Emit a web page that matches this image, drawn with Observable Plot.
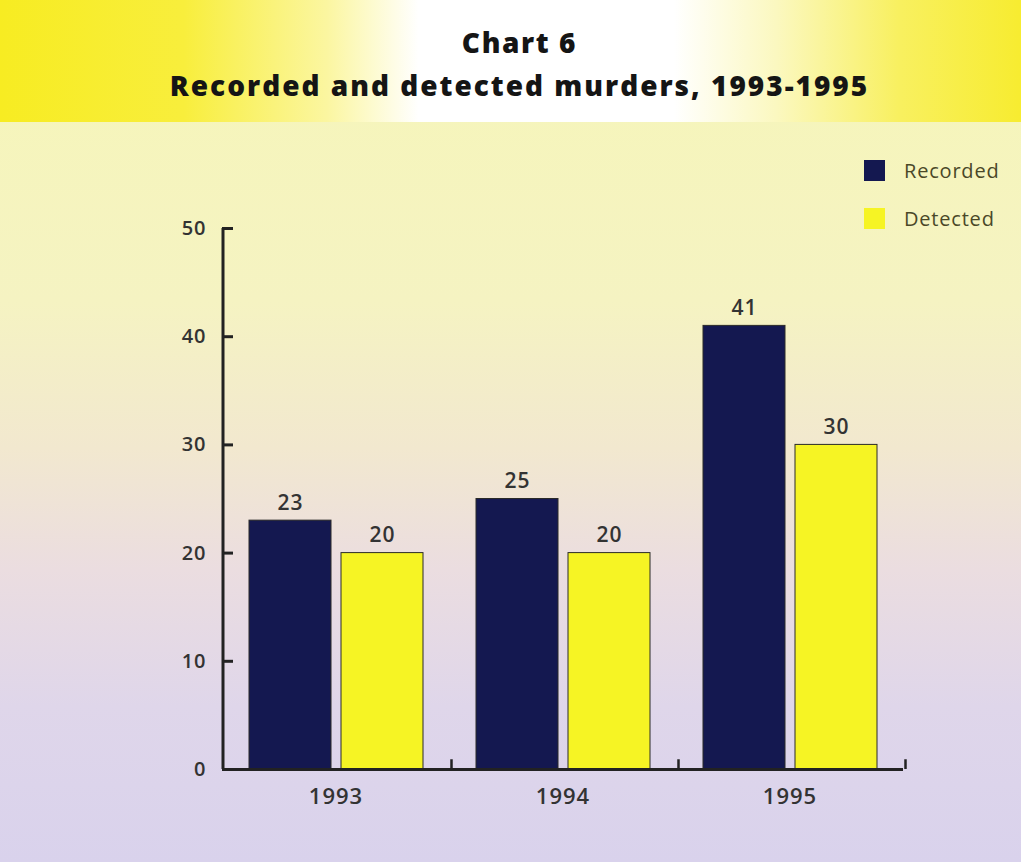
<!DOCTYPE html>
<html>
<head>
<meta charset="utf-8">
<script src="https://cdn.jsdelivr.net/npm/d3@7"></script>
<script src="https://cdn.jsdelivr.net/npm/@observablehq/plot@0.6"></script>
<style>
  html, body { margin: 0; padding: 0; background: #fff; }
  #page {
    position: relative; width: 1021px; height: 862px; overflow: hidden;
    background: linear-gradient(to bottom, #f6f6b8 0%, #f5f3c2 35%, #f2e8cf 52%, #ebdde0 66%, #dfd6ea 82%, #d9d2ec 100%);
    font-family: "Open Sans", sans-serif;
  }
  #banner {
    height: 122px; position: relative;
    background: linear-gradient(to right, #f7ec22 0%, #f8ee3c 18%, #fbf6a0 32%, #ffffff 41%, #ffffff 66%, #fbf8c0 76%, #f8f060 88%, #f7ec30 100%);
  }
  #banner .l1 { position: absolute; left: 18px; right: 0; top: 27px; line-height: 30px; text-align: center; font-weight: 800; font-size: 28px; color: #151515; letter-spacing: 1.6px; }
  #banner .l2 { position: absolute; left: 18px; right: 0; top: 70px; line-height: 30px; text-align: center; font-weight: 800; font-size: 28px; color: #151515; letter-spacing: 2px; }
  #legend { position: absolute; left: 864px; top: 158px; font-size: 20px; color: #4a4828; letter-spacing: 0.8px; }
  #legend .item { display: flex; align-items: center; height: 24px; margin-bottom: 24px; }
  #legend .sw { width: 21px; height: 21px; margin-right: 19px; box-sizing: border-box; }
  #chart { position: absolute; left: 0; top: 122px; }
</style>
</head>
<body>
<div id="page">
  <div id="banner">
    <div class="l1" id="t1"></div>
    <div class="l2" id="t2"></div>
  </div>
  <div id="legend"></div>
  <div id="chart"></div>
</div>
<script>
const titleLine1 = "Chart 6";
const titleLine2 = "Recorded and detected murders, 1993-1995";
const years = ["1993", "1994", "1995"];
const series = ["Recorded", "Detected"];
const recorded = [23, 25, 41];
const detected = [20, 20, 30];
const yTicks = [0, 10, 20, 30, 40, 50];
const seriesColors = ["#141850", "#f6f424"];

document.getElementById("t1").textContent = titleLine1;
document.getElementById("t2").textContent = titleLine2;

const legend = document.getElementById("legend");
series.forEach((s, i) => {
  const item = document.createElement("div");
  item.className = "item";
  const sw = document.createElement("div");
  sw.className = "sw";
  sw.style.background = seriesColors[i];
  const lab = document.createElement("span");
  lab.textContent = s;
  item.appendChild(sw); item.appendChild(lab);
  legend.appendChild(item);
});

const data = years.flatMap((y, i) => [
  {year: y, series: series[0], value: recorded[i]},
  {year: y, series: series[1], value: detected[i]}
]);

const chart = Plot.plot({
  width: 1021,
  height: 740,
  marginTop: 106,
  marginBottom: 93,
  marginLeft: 222,
  marginRight: 118,
  style: {background: "transparent", fontFamily: "Open Sans, sans-serif", fontSize: "20px", fontWeight: 600, color: "#333", letterSpacing: "1px"},
  fx: {domain: years, padding: 0, label: null},
  x: {domain: series, paddingInner: 0.109, paddingOuter: 0.288, axis: null},
  y: {domain: [0, 50], label: null},
  color: {domain: series, range: seriesColors},
  marks: [
    Plot.barY(data, {fx: "year", x: "series", y: "value", fill: "series", stroke: "#2a2a28", strokeWidth: 1}),
    Plot.text(data, {fx: "year", x: "series", y: "value", text: d => String(d.value), dy: -11, lineAnchor: "bottom", fontSize: 21, fill: "#333"}),
    Plot.ruleY([0], {stroke: "#222", strokeWidth: 3}),
    Plot.ruleX([years[0]], {fx: d => d, x: () => series[0], y1: 0, y2: 50, dx: -67.5, stroke: "#222", strokeWidth: 3}),
    Plot.ruleX(["Detected"], {x: d => d, y1: 0, y2: 0.9, dx: 69, stroke: "#222", strokeWidth: 2.5}),
    Plot.axisY({ticks: yTicks, tickSize: -11, tickPadding: 27, strokeWidth: 3, stroke: "#222", label: null, fontSize: 20}),
    Plot.axisFx({anchor: "bottom", tickSize: 0, tickPadding: 19, label: null, fontSize: 22})
  ]
});
document.getElementById("chart").appendChild(chart);
</script>
</body>
</html>
